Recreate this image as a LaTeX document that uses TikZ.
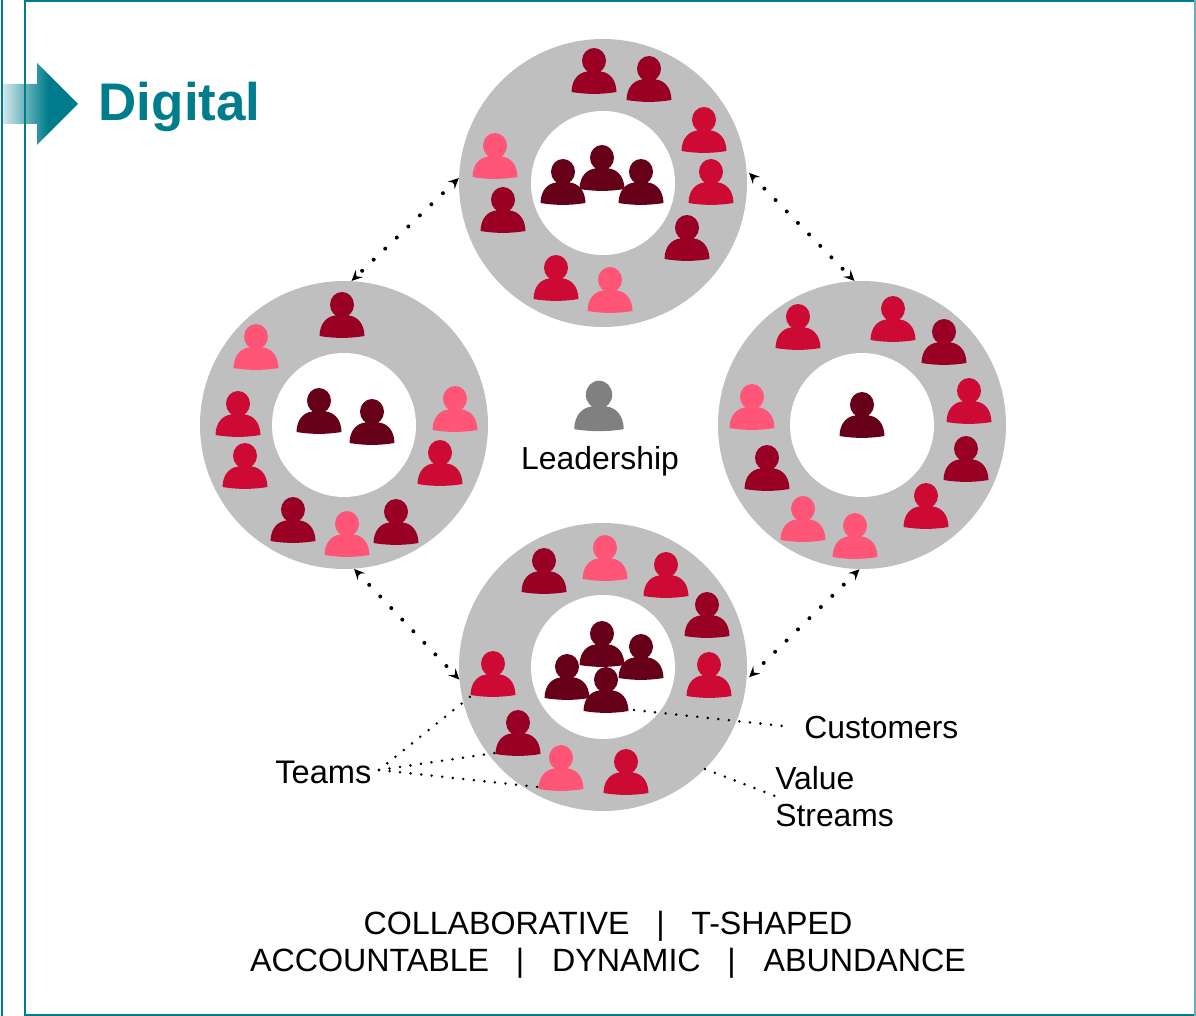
\documentclass[tikz,border=0pt]{standalone}
\usepackage{fontspec}
\setmainfont{Liberation Sans}
\usetikzlibrary{arrows.meta}
\definecolor{teal}{HTML}{007C8C}
\definecolor{pdark}{HTML}{660018}
\definecolor{pmid}{HTML}{990024}
\definecolor{pred}{HTML}{CC0A33}
\definecolor{ppink}{HTML}{FF5577}
\definecolor{pgrey}{HTML}{808080}
\definecolor{ring}{HTML}{BFBFBF}
\tikzset{
  x=0.75pt,y=-0.75pt,
  person/.pic={
    \fill[#1] (0,-0.3) ellipse [x radius=12,y radius=12.7];
    \fill[#1] (-22.5,31) .. controls (-22.2,18) and (-15,11.5) .. (-7,10.5)
      -- (-4,8) -- (4,8) -- (7,10.5)
      .. controls (15,11.5) and (22.2,18) .. (22.5,31)
      .. controls (8,33.5) and (-8,33.5) .. (-22.5,31) -- cycle;
  },
  outerring/.style={circle,fill=ring,draw=none,minimum size=216pt,inner sep=0pt},
  innerring/.style={circle,fill=white,draw=none,minimum size=108pt,inner sep=0pt},
  label text/.style={inner sep=0pt,font=\fontsize{23.9}{27.75}\selectfont,text=black},
  linkline/.style={line width=3pt,line cap=round,dash pattern=on 0pt off 12pt,
     {Stealth[length=8pt,width=7.5pt,inset=3pt]}-{Stealth[length=8pt,width=7.5pt,inset=3pt]}},
  leader/.style={line width=2.1pt,line cap=round,dash pattern=on 0pt off 7.95pt},
  frameline/.style={draw=teal,line width=1.3pt},
}
\newcommand{\people}[2]{\foreach \px/\py in {#2}{\pic at (\px,\py) {person=#1};}}
\begin{document}
\begin{tikzpicture}
\useasboundingbox (0,0) rectangle (1196,1016);
% arrow
\begin{scope}
\clip (3,84) -- (37,84) -- (37,63) -- (78,104) -- (37,145) -- (37,124) -- (3,124) -- cycle;
\shade[left color=teal!18,right color=teal] (3,60) rectangle (48,150);
\fill[teal] (47.5,60) rectangle (80,150);
\end{scope}
% frame
\draw[frameline] (2,0) -- (2,1016);
\draw[frameline] (1196,1.2) -- (25,1.2) -- (25,1016);
\draw[frameline] (25,1015.2) -- (1196,1015.2);
\draw[frameline,draw=teal!60] (1195.2,0) -- (1195.2,1016);
\node[anchor=base west,inner sep=0pt,font=\bfseries\fontsize{39.7}{39.7}\selectfont,text=teal] (title) at (98.5,121) {Digital};
% rings
\node[outerring] (top) at (603,183) {};
\node[innerring] at (603,183) {};
\node[outerring] (left) at (344,425) {};
\node[innerring] at (344,425) {};
\node[outerring] (right) at (862,425) {};
\node[innerring] at (862,425) {};
\node[outerring] (bottom) at (603,667) {};
\node[innerring] at (603,667) {};
% top ring people
\people{pmid}{594/61,649/69,687/228,503/200}
\people{pred}{704/120,711/172,556/268}
\people{ppink}{610/280,495/146}
\people{pdark}{602/158,563/172,641/172}
% left ring people
\people{pmid}{342/305,293/510,396/512}
\people{pred}{238/404,245/456,440/453}
\people{ppink}{256/337,347/524,455/399}
\people{pdark}{319/401,372/412}
% right ring people
\people{pmid}{944/332,966/449,767/458}
\people{pred}{798/317,893/309,969/391,926/496}
\people{ppink}{855/526,803/509,752/397}
\people{pdark}{862/405}
% bottom ring people
\people{pmid}{544/561,707/605,518/723}
\people{pred}{666/565,709/665,626/762,493/664}
\people{ppink}{605/548,561/758}
\people{pdark}{602/634,641/647,567/667,606/680}
% leadership
\pic[scale=1.1] at (599,395) {person=pgrey};
\node[label text,anchor=base] (lead) at (600,469) {Leadership};
% links
\draw[linkline] (top.178) -- (left.87);
\draw[linkline,shorten <=2.5pt] (top.5.6) -- (right.93.5);
\draw[linkline] (left.-86) -- (bottom.185);
\draw[linkline,shorten >=2.5pt] (right.-91) -- (bottom.-5);
% labels
\node[label text,anchor=base west,font=\fontsize{24.5}{27.75}\selectfont] (teams) at (275,783) {Teams};
\node[label text,anchor=base west] (cust) at (804,738) {Customers};
\node[label text,anchor=north west,align=left] (vs) at (775,766) {Value\\Streams};
\node[label text,anchor=center,align=center,font=\fontsize{24.15}{27.75}\selectfont] (qual) at (608,945) {COLLABORATIVE\hspace{20pt}|\hspace{20pt}T-SHAPED\\ACCOUNTABLE\hspace{20pt}|\hspace{21pt}DYNAMIC\hspace{20pt}|\hspace{21pt}ABUNDANCE};
% leaders
\coordinate (t0) at (379,770);
\coordinate (t1) at (471,696);
\coordinate (t2) at (495,753);
\coordinate (t3) at (538,787);
\coordinate (c0) at (634,710);
\coordinate (c1) at (783,726);
\coordinate (v0) at (705,769);
\coordinate (v1) at (775,796);
\draw[leader] (t0) -- (t1);
\draw[leader] (t0) -- (t2);
\draw[leader] (t0) -- (t3);
\draw[leader] (c0) -- (c1);
\draw[leader] (v0) -- (v1);
\end{tikzpicture}
\end{document}
